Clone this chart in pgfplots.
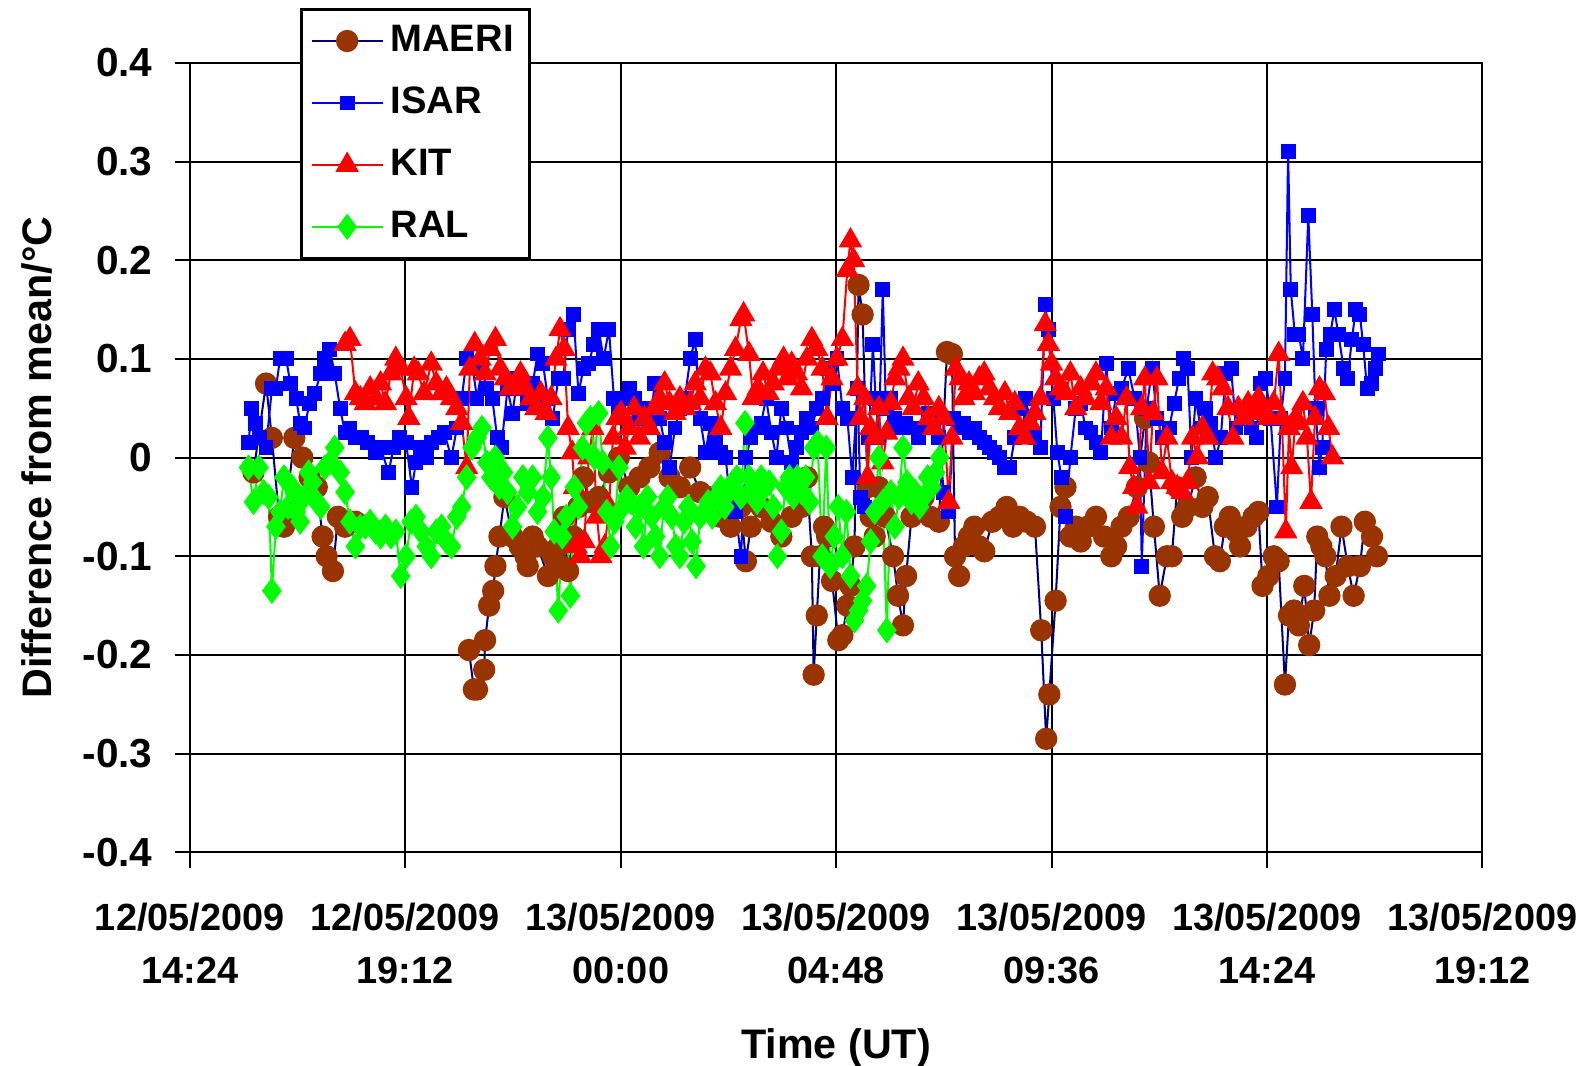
\documentclass[border=0pt]{standalone}
\usepackage{pgfplots}
\pgfplotsset{compat=1.18}
\usepackage{fontspec}
\setmainfont{Liberation Sans}

\definecolor{maeri}{HTML}{993300}
\definecolor{maeriline}{HTML}{000080}
\definecolor{isar}{HTML}{0000FF}
\definecolor{kit}{HTML}{FF0000}
\definecolor{ral}{HTML}{00FF00}

\begin{document}
\begin{tikzpicture}
% fixed page size, same proportions as the reference
\path[use as bounding box] (-56.1pt,-63pt) rectangle (414.3pt,252pt);
\begin{axis}[
	at={(0pt,0pt)}, anchor=south west,
	scale only axis,
	width=382.2pt, height=233.4pt,
	font=\bfseries\fontsize{11}{15.6}\selectfont,
	xmin=0, xmax=28.8, ymin=-0.4, ymax=0.4,
	xtick={0,4.8,9.6,14.4,19.2,24,28.8},
	xticklabels={{12/05/2009\\14:24},{12/05/2009\\19:12},{13/05/2009\\00:00},{13/05/2009\\04:48},{13/05/2009\\09:36},{13/05/2009\\14:24},{13/05/2009\\19:12}},
	x tick label style={align=center, yshift=-7pt, font=\bfseries\fontsize{11.2}{15.6}\selectfont},
	ytick={-0.4,-0.3,-0.2,-0.1,0,0.1,0.2,0.3,0.4},
	yticklabels={-0.4,-0.3,-0.2,-0.1,0,0.1,0.2,0.3,0.4},
	y tick label style={xshift=-3pt, font=\bfseries\fontsize{12}{14}\selectfont},
	xtick pos=bottom, ytick pos=left,
	tick align=outside, major tick length=4.5pt,
	tick style={black, line width=0.6pt},
	xmajorgrids, ymajorgrids,
	grid style={black, line width=0.6pt},
	axis line style={line width=0.6pt},
	xlabel={Time (UT)}, ylabel={Difference from mean/°C},
	label style={font=\bfseries\fontsize{12.2}{14}\selectfont},
	xlabel style={yshift=-6.5pt},
	ylabel style={yshift=2pt},
	unbounded coords=jump,
	legend style={at={(0.0856,1.069)}, anchor=north west, draw=black, line width=0.8pt,
		fill=white, cells={anchor=west}, row sep=5pt, inner sep=2.6pt,
		font=\bfseries\fontsize{11.3}{13}\selectfont},
	legend image code/.code={\draw[mark repeat=2,mark phase=2,#1] plot coordinates {(0cm,0cm) (0.37cm,0cm) (0.74cm,0cm)};},
]
\addplot[maeriline, line width=0.6pt, mark=*, mark size=3pt, mark options={solid, draw=maeri, fill=maeri}] coordinates {
(1.42,-0.015) (1.70,0.075) (1.83,0.02) (1.99,-0.06) (2.10,-0.07) (2.33,0.02) (2.51,0.0) (2.67,-0.02) (2.83,-0.03) (2.96,-0.08) (3.05,-0.1) (3.19,-0.115) (3.30,-0.06) (3.46,-0.07) (3.69,-0.065)
(4.9,nan)
(6.22,-0.195) (6.33,-0.235) (6.40,-0.235) (6.56,-0.215) (6.58,-0.185) (6.67,-0.15) (6.76,-0.135) (6.81,-0.11) (6.90,-0.08) (7.01,-0.04) (7.19,-0.08) (7.35,-0.09) (7.48,-0.1) (7.53,-0.11) (7.64,-0.08) (7.75,-0.09) (7.98,-0.12) (8.09,-0.1) (8.21,-0.09) (8.27,-0.11) (8.34,-0.06) (8.43,-0.115) (8.55,-0.08) (8.66,-0.05) (8.77,-0.02) (8.89,-0.045) (9.11,-0.04) (9.34,-0.015) (9.56,0.0) (9.79,-0.03) (10.02,-0.02) (10.24,-0.01) (10.47,0.005) (10.69,-0.02) (10.92,-0.03) (11.15,-0.01) (11.37,-0.035) (11.60,-0.04) (11.83,-0.06) (12.05,-0.07) (12.28,-0.05) (12.39,-0.105) (12.50,-0.07) (12.73,-0.05) (12.96,-0.065) (13.18,-0.08) (13.41,-0.06) (13.63,-0.05) (13.75,-0.02) (13.86,-0.1) (13.90,-0.22) (13.97,-0.16) (14.04,-0.1) (14.13,-0.07) (14.20,-0.08) (14.31,-0.125) (14.45,-0.185) (14.54,-0.18) (14.65,-0.15) (14.72,-0.13) (14.81,-0.09) (14.90,0.175) (14.99,0.145) (15.10,-0.03) (15.17,-0.06) (15.26,-0.08) (15.35,-0.03) (15.49,-0.06) (15.67,-0.1) (15.78,-0.14) (15.89,-0.17) (15.96,-0.12) (16.08,-0.06) (16.23,-0.05) (16.35,-0.04) (16.50,-0.06) (16.69,-0.065) (16.87,0.107) (16.98,0.105) (17.05,-0.1) (17.14,-0.12) (17.25,-0.09) (17.36,-0.08) (17.48,-0.07) (17.59,-0.09) (17.70,-0.095) (17.88,-0.065) (18.04,-0.06) (18.20,-0.05) (18.34,-0.07) (18.49,-0.06) (18.65,-0.065) (18.83,-0.07) (18.97,-0.175) (19.08,-0.285) (19.15,-0.24) (19.29,-0.145) (19.40,-0.05) (19.51,-0.03) (19.62,-0.08) (19.74,-0.07) (19.85,-0.085) (20.01,-0.07) (20.19,-0.06) (20.37,-0.08) (20.53,-0.1) (20.64,-0.09) (20.76,-0.07) (20.92,-0.06) (21.10,-0.03) (21.28,0.04) (21.37,-0.005) (21.48,-0.07) (21.61,-0.14) (21.77,-0.1) (21.88,-0.1) (22.00,-0.03) (22.11,-0.06) (22.23,-0.05) (22.41,-0.02) (22.56,-0.05) (22.68,-0.04) (22.84,-0.1) (22.95,-0.105) (23.06,-0.07) (23.17,-0.06) (23.31,-0.075) (23.40,-0.09) (23.54,-0.07) (23.70,-0.06) (23.81,-0.055) (23.90,-0.13) (24.03,-0.12) (24.15,-0.1) (24.26,-0.105) (24.40,-0.23) (24.49,-0.16) (24.60,-0.155) (24.71,-0.17) (24.83,-0.13) (24.94,-0.19) (25.05,-0.155) (25.12,-0.08) (25.21,-0.09) (25.30,-0.1) (25.39,-0.14) (25.53,-0.12) (25.66,-0.07) (25.80,-0.11) (25.93,-0.14) (26.07,-0.11) (26.18,-0.065) (26.34,-0.08) (26.45,-0.1)
};
\addlegendentry{MAERI}
\addplot[isar, line width=0.6pt, mark=square*, mark size=1.9pt, mark options={solid}] coordinates {
(1.31,0.015) (1.38,0.05) (1.47,0.035) (1.56,0.02) (1.70,0.01) (1.83,0.07) (1.92,0.07) (2.01,0.1) (2.15,0.1) (2.24,0.075) (2.37,0.06) (2.46,0.035) (2.55,0.03) (2.67,0.055) (2.78,0.065) (2.92,0.085) (3.01,0.1) (3.12,0.11) (3.23,0.085) (3.35,0.05) (3.46,0.025) (3.57,0.03) (3.69,0.02) (3.82,0.02) (3.96,0.015) (4.14,0.005) (4.25,0.01) (4.43,-0.015) (4.54,0.01) (4.68,0.02) (4.82,0.015) (4.95,-0.03) (5.04,-0.005) (5.15,0.01) (5.27,0.0) (5.38,0.015) (5.54,0.02) (5.67,0.025) (5.83,0.0) (5.95,0.03) (6.06,0.06) (6.17,0.1) (6.29,0.095) (6.40,0.06) (6.51,0.09) (6.62,0.07) (6.74,0.06) (6.85,0.02) (6.94,0.01) (7.08,0.07) (7.19,0.045) (7.30,0.08) (7.42,0.07) (7.53,0.055) (7.64,0.075) (7.75,0.105) (7.87,0.095) (7.98,0.06) (8.09,0.04) (8.21,0.08) (8.32,0.08) (8.43,0.13) (8.55,0.145) (8.66,0.065) (8.77,0.09) (8.89,0.095) (9.00,0.115) (9.11,0.13) (9.22,0.1) (9.34,0.13) (9.45,0.06) (9.56,0.05) (9.68,0.06) (9.79,0.07) (9.90,0.06) (10.02,0.04) (10.13,0.05) (10.24,0.03) (10.36,0.075) (10.47,0.04) (10.58,0.015) (10.69,-0.01) (10.81,0.03) (10.92,0.05) (11.03,0.06) (11.15,0.1) (11.26,0.12) (11.37,0.04) (11.49,0.005) (11.60,0.035) (11.71,0.02) (11.83,0.005) (11.94,0.0) (12.05,-0.05) (12.16,-0.055) (12.28,-0.1) (12.39,0.0) (12.50,0.02) (12.62,0.03) (12.73,0.035) (12.84,0.06) (12.96,0.025) (13.07,0.0) (13.18,0.05) (13.29,0.03) (13.41,-0.005) (13.52,0.01) (13.63,0.025) (13.75,0.04) (13.86,0.03) (13.97,0.05) (14.09,0.06) (14.20,0.09) (14.31,0.075) (14.42,0.1) (14.54,0.05) (14.65,0.04) (14.76,-0.02) (14.88,0.07) (14.94,-0.04) (15.04,-0.05) (15.13,0.02) (15.22,0.115) (15.28,0.06) (15.35,0.02) (15.44,0.17) (15.51,0.05) (15.62,0.06) (15.71,0.04) (15.80,0.03) (15.94,0.035) (16.08,0.03) (16.23,0.02) (16.35,0.03) (16.46,0.045) (16.57,0.035) (16.69,0.02) (16.80,-0.035) (16.91,-0.055) (17.02,0.04) (17.14,0.03) (17.25,0.035) (17.36,0.025) (17.48,0.03) (17.59,0.02) (17.70,0.015) (17.82,0.01) (17.93,0.005) (18.04,0.0) (18.16,-0.01) (18.27,-0.01) (18.38,0.02) (18.49,0.05) (18.61,0.06) (18.72,0.04) (18.83,0.02) (18.95,0.01) (19.06,0.155) (19.13,0.13) (19.24,0.06) (19.33,0.005) (19.42,-0.02) (19.51,-0.06) (19.62,0.0) (19.74,0.05) (19.85,0.055) (19.96,0.03) (20.08,0.025) (20.19,0.015) (20.30,0.005) (20.42,0.095) (20.53,0.03) (20.64,0.065) (20.76,0.07) (20.91,0.09) (21.05,0.06) (21.17,0.0) (21.21,-0.11) (21.32,0.05) (21.44,0.09) (21.55,0.04) (21.68,0.02) (21.82,0.03) (21.93,0.055) (22.04,0.08) (22.14,0.1) (22.23,0.09) (22.32,0.0) (22.41,0.06) (22.52,0.03) (22.63,0.05) (22.75,0.035) (22.86,0.0) (22.97,0.02) (23.08,0.085) (23.20,0.09) (23.31,0.03) (23.42,0.045) (23.54,0.04) (23.65,0.03) (23.76,0.02) (23.85,0.075) (23.97,0.08) (24.08,0.04) (24.22,-0.05) (24.31,0.04) (24.40,0.08) (24.47,0.31) (24.53,0.17) (24.62,0.125) (24.71,0.125) (24.80,0.1) (24.92,0.245) (25.01,0.145) (25.08,0.05) (25.17,-0.01) (25.23,0.01) (25.32,0.11) (25.41,0.125) (25.50,0.15) (25.59,0.125) (25.71,0.09) (25.80,0.08) (25.89,0.12) (25.98,0.15) (26.07,0.145) (26.14,0.115) (26.23,0.07) (26.32,0.075) (26.41,0.09) (26.48,0.105)
};
\addlegendentry{ISAR}
\addplot[kit, line width=0.6pt, mark=triangle*, mark size=3.4pt, mark options={solid}] coordinates {
(3.46,0.115) (3.57,0.12) (3.69,0.065) (3.80,0.06) (3.91,0.055) (4.02,0.07) (4.14,0.06) (4.25,0.075) (4.36,0.055) (4.48,0.085) (4.59,0.1) (4.70,0.09) (4.82,0.06) (4.88,0.04) (5.00,0.09) (5.09,0.085) (5.22,0.065) (5.38,0.095) (5.49,0.075) (5.61,0.065) (5.72,0.07) (5.83,0.06) (5.95,0.05) (6.06,0.035) (6.17,-0.01) (6.24,0.09) (6.35,0.115) (6.47,0.1) (6.58,0.085) (6.69,0.11) (6.81,0.12) (6.92,0.09) (7.03,0.08) (7.14,0.07) (7.26,0.075) (7.37,0.085) (7.48,0.07) (7.60,0.06) (7.71,0.05) (7.82,0.065) (7.94,0.045) (8.05,0.06) (8.16,0.1) (8.25,0.13) (8.34,0.11) (8.43,0.03) (8.52,0.005) (8.57,-0.03) (8.61,-0.09) (8.70,-0.1) (8.79,-0.085) (8.89,0.0) (8.98,0.03) (9.07,-0.06) (9.16,-0.1) (9.25,-0.09) (9.34,-0.05) (9.43,0.02) (9.52,0.04) (9.61,0.045) (9.70,0.01) (9.79,0.03) (9.90,0.05) (10.02,0.02) (10.13,0.04) (10.24,0.03) (10.36,0.05) (10.47,0.06) (10.58,0.075) (10.69,0.055) (10.81,0.045) (10.92,0.06) (11.03,0.05) (11.15,0.055) (11.26,0.075) (11.37,0.06) (11.49,0.09) (11.60,0.085) (11.71,0.055) (11.83,0.03) (11.94,0.065) (12.05,0.09) (12.16,0.11) (12.28,0.14) (12.34,0.145) (12.46,0.105) (12.55,0.06) (12.66,0.07) (12.77,0.085) (12.89,0.065) (13.00,0.075) (13.11,0.09) (13.23,0.1) (13.32,0.08) (13.41,0.095) (13.52,0.085) (13.63,0.07) (13.75,0.1) (13.86,0.12) (13.97,0.11) (14.09,0.09) (14.20,0.04) (14.31,0.08) (14.42,0.1) (14.54,0.12) (14.65,0.19) (14.72,0.22) (14.79,0.2) (14.88,0.07) (14.94,0.04) (15.04,0.06) (15.10,-0.02) (15.17,0.03) (15.26,0.02) (15.35,0.05) (15.44,-0.005) (15.53,0.025) (15.62,0.055) (15.71,0.08) (15.80,0.09) (15.89,0.1) (16.01,0.06) (16.12,0.05) (16.23,0.075) (16.35,0.06) (16.46,0.04) (16.57,0.03) (16.69,0.05) (16.80,0.04) (16.91,-0.045) (16.98,0.02) (17.07,0.09) (17.16,0.08) (17.25,0.06) (17.36,0.075) (17.48,0.065) (17.59,0.08) (17.70,0.085) (17.82,0.07) (17.93,0.06) (18.04,0.05) (18.16,0.065) (18.27,0.045) (18.38,0.055) (18.49,0.03) (18.61,0.02) (18.72,0.035) (18.83,0.045) (18.95,0.06) (19.06,0.135) (19.13,0.115) (19.20,0.095) (19.29,0.08) (19.40,0.07) (19.51,0.065) (19.62,0.085) (19.74,0.05) (19.85,0.07) (19.96,0.06) (20.08,0.075) (20.19,0.085) (20.30,0.055) (20.42,0.07) (20.53,0.02) (20.64,0.04) (20.76,0.02) (20.87,0.06) (20.94,-0.01) (21.03,-0.03) (21.10,-0.05) (21.21,0.05) (21.28,0.08) (21.37,-0.025) (21.46,0.045) (21.55,0.08) (21.66,-0.015) (21.77,0.02) (21.88,-0.025) (22.00,-0.03) (22.11,-0.035) (22.23,-0.025) (22.34,0.02) (22.45,0.0) (22.56,0.03) (22.68,0.02) (22.79,0.085) (22.90,0.08) (23.02,0.07) (23.13,0.05) (23.24,0.02) (23.36,0.05) (23.47,0.04) (23.58,0.055) (23.70,0.045) (23.81,0.06) (23.92,0.05) (24.03,0.04) (24.15,0.055) (24.26,0.105) (24.33,0.04) (24.42,-0.075) (24.49,0.03) (24.55,-0.01) (24.64,0.04) (24.71,0.035) (24.80,0.055) (24.89,0.02) (24.98,-0.045) (25.07,0.04) (25.17,0.07) (25.28,0.065) (25.37,0.03) (25.46,0.0)
};
\addlegendentry{KIT}
\addplot[ral, line width=0.6pt, mark=diamond*, mark size=3.4pt, mark options={solid}] coordinates {
(1.31,-0.01) (1.42,-0.045) (1.54,-0.01) (1.65,-0.035) (1.76,-0.04) (1.83,-0.135) (1.92,-0.07) (2.01,-0.055) (2.10,-0.02) (2.19,-0.05) (2.28,-0.03) (2.37,-0.055) (2.46,-0.065) (2.55,-0.04) (2.65,-0.015) (2.74,-0.025) (2.83,-0.045) (2.92,-0.05) (3.01,-0.01) (3.12,-0.005) (3.23,0.01) (3.35,-0.015) (3.46,-0.035) (3.57,-0.065) (3.69,-0.09) (3.80,-0.07) (3.91,-0.07) (4.02,-0.065) (4.14,-0.075) (4.25,-0.08) (4.36,-0.07) (4.48,-0.08) (4.59,-0.075) (4.70,-0.12) (4.82,-0.1) (4.93,-0.065) (5.04,-0.06) (5.15,-0.075) (5.27,-0.09) (5.38,-0.1) (5.49,-0.075) (5.61,-0.07) (5.72,-0.085) (5.83,-0.09) (5.95,-0.06) (6.06,-0.05) (6.17,-0.02) (6.29,0.01) (6.40,0.02) (6.51,0.03) (6.62,-0.005) (6.71,-0.02) (6.81,0.0) (6.90,-0.03) (6.99,-0.015) (7.08,-0.035) (7.19,-0.07) (7.30,-0.05) (7.42,-0.02) (7.53,-0.035) (7.64,-0.02) (7.75,-0.055) (7.87,-0.04) (7.98,0.02) (8.05,-0.02) (8.12,-0.075) (8.21,-0.155) (8.30,-0.08) (8.39,-0.06) (8.48,-0.14) (8.57,-0.03) (8.66,-0.05) (8.75,0.01) (8.84,0.035) (8.93,0.04) (9.02,0.0) (9.11,0.045) (9.20,-0.005) (9.29,-0.055) (9.38,-0.09) (9.47,-0.065) (9.56,-0.01) (9.65,-0.05) (9.74,-0.04) (9.83,-0.045) (9.93,-0.07) (10.02,-0.05) (10.11,-0.09) (10.20,-0.04) (10.29,-0.06) (10.38,-0.08) (10.47,-0.1) (10.56,-0.05) (10.65,-0.04) (10.74,-0.06) (10.83,-0.09) (10.92,-0.1) (11.01,-0.065) (11.10,-0.05) (11.19,-0.085) (11.28,-0.11) (11.37,-0.06) (11.46,-0.055) (11.55,-0.045) (11.64,-0.06) (11.73,-0.04) (11.83,-0.03) (11.92,-0.05) (12.01,-0.035) (12.10,-0.025) (12.19,-0.02) (12.28,-0.04) (12.37,0.035) (12.46,-0.02) (12.55,-0.03) (12.64,-0.045) (12.73,-0.02) (12.82,-0.03) (12.91,-0.025) (13.00,-0.05) (13.09,-0.1) (13.18,-0.075) (13.27,-0.03) (13.36,-0.02) (13.45,-0.04) (13.54,-0.02) (13.63,-0.035) (13.72,-0.02) (13.81,-0.045) (13.90,0.01) (13.99,0.015) (14.09,-0.1) (14.18,0.01) (14.27,-0.11) (14.36,-0.08) (14.45,-0.05) (14.54,-0.1) (14.63,-0.055) (14.72,-0.12) (14.81,-0.165) (14.90,-0.155) (14.99,-0.145) (15.08,-0.13) (15.17,-0.085) (15.26,-0.055) (15.35,0.0) (15.44,-0.045) (15.53,-0.175) (15.62,-0.035) (15.71,-0.07) (15.80,-0.04) (15.89,0.01) (15.98,-0.025) (16.08,-0.045) (16.17,-0.035) (16.26,-0.05) (16.35,-0.04) (16.44,-0.02) (16.53,-0.03) (16.62,-0.015) (16.71,0.0)
};
\addlegendentry{RAL}
\end{axis}
\end{tikzpicture}
\end{document}
